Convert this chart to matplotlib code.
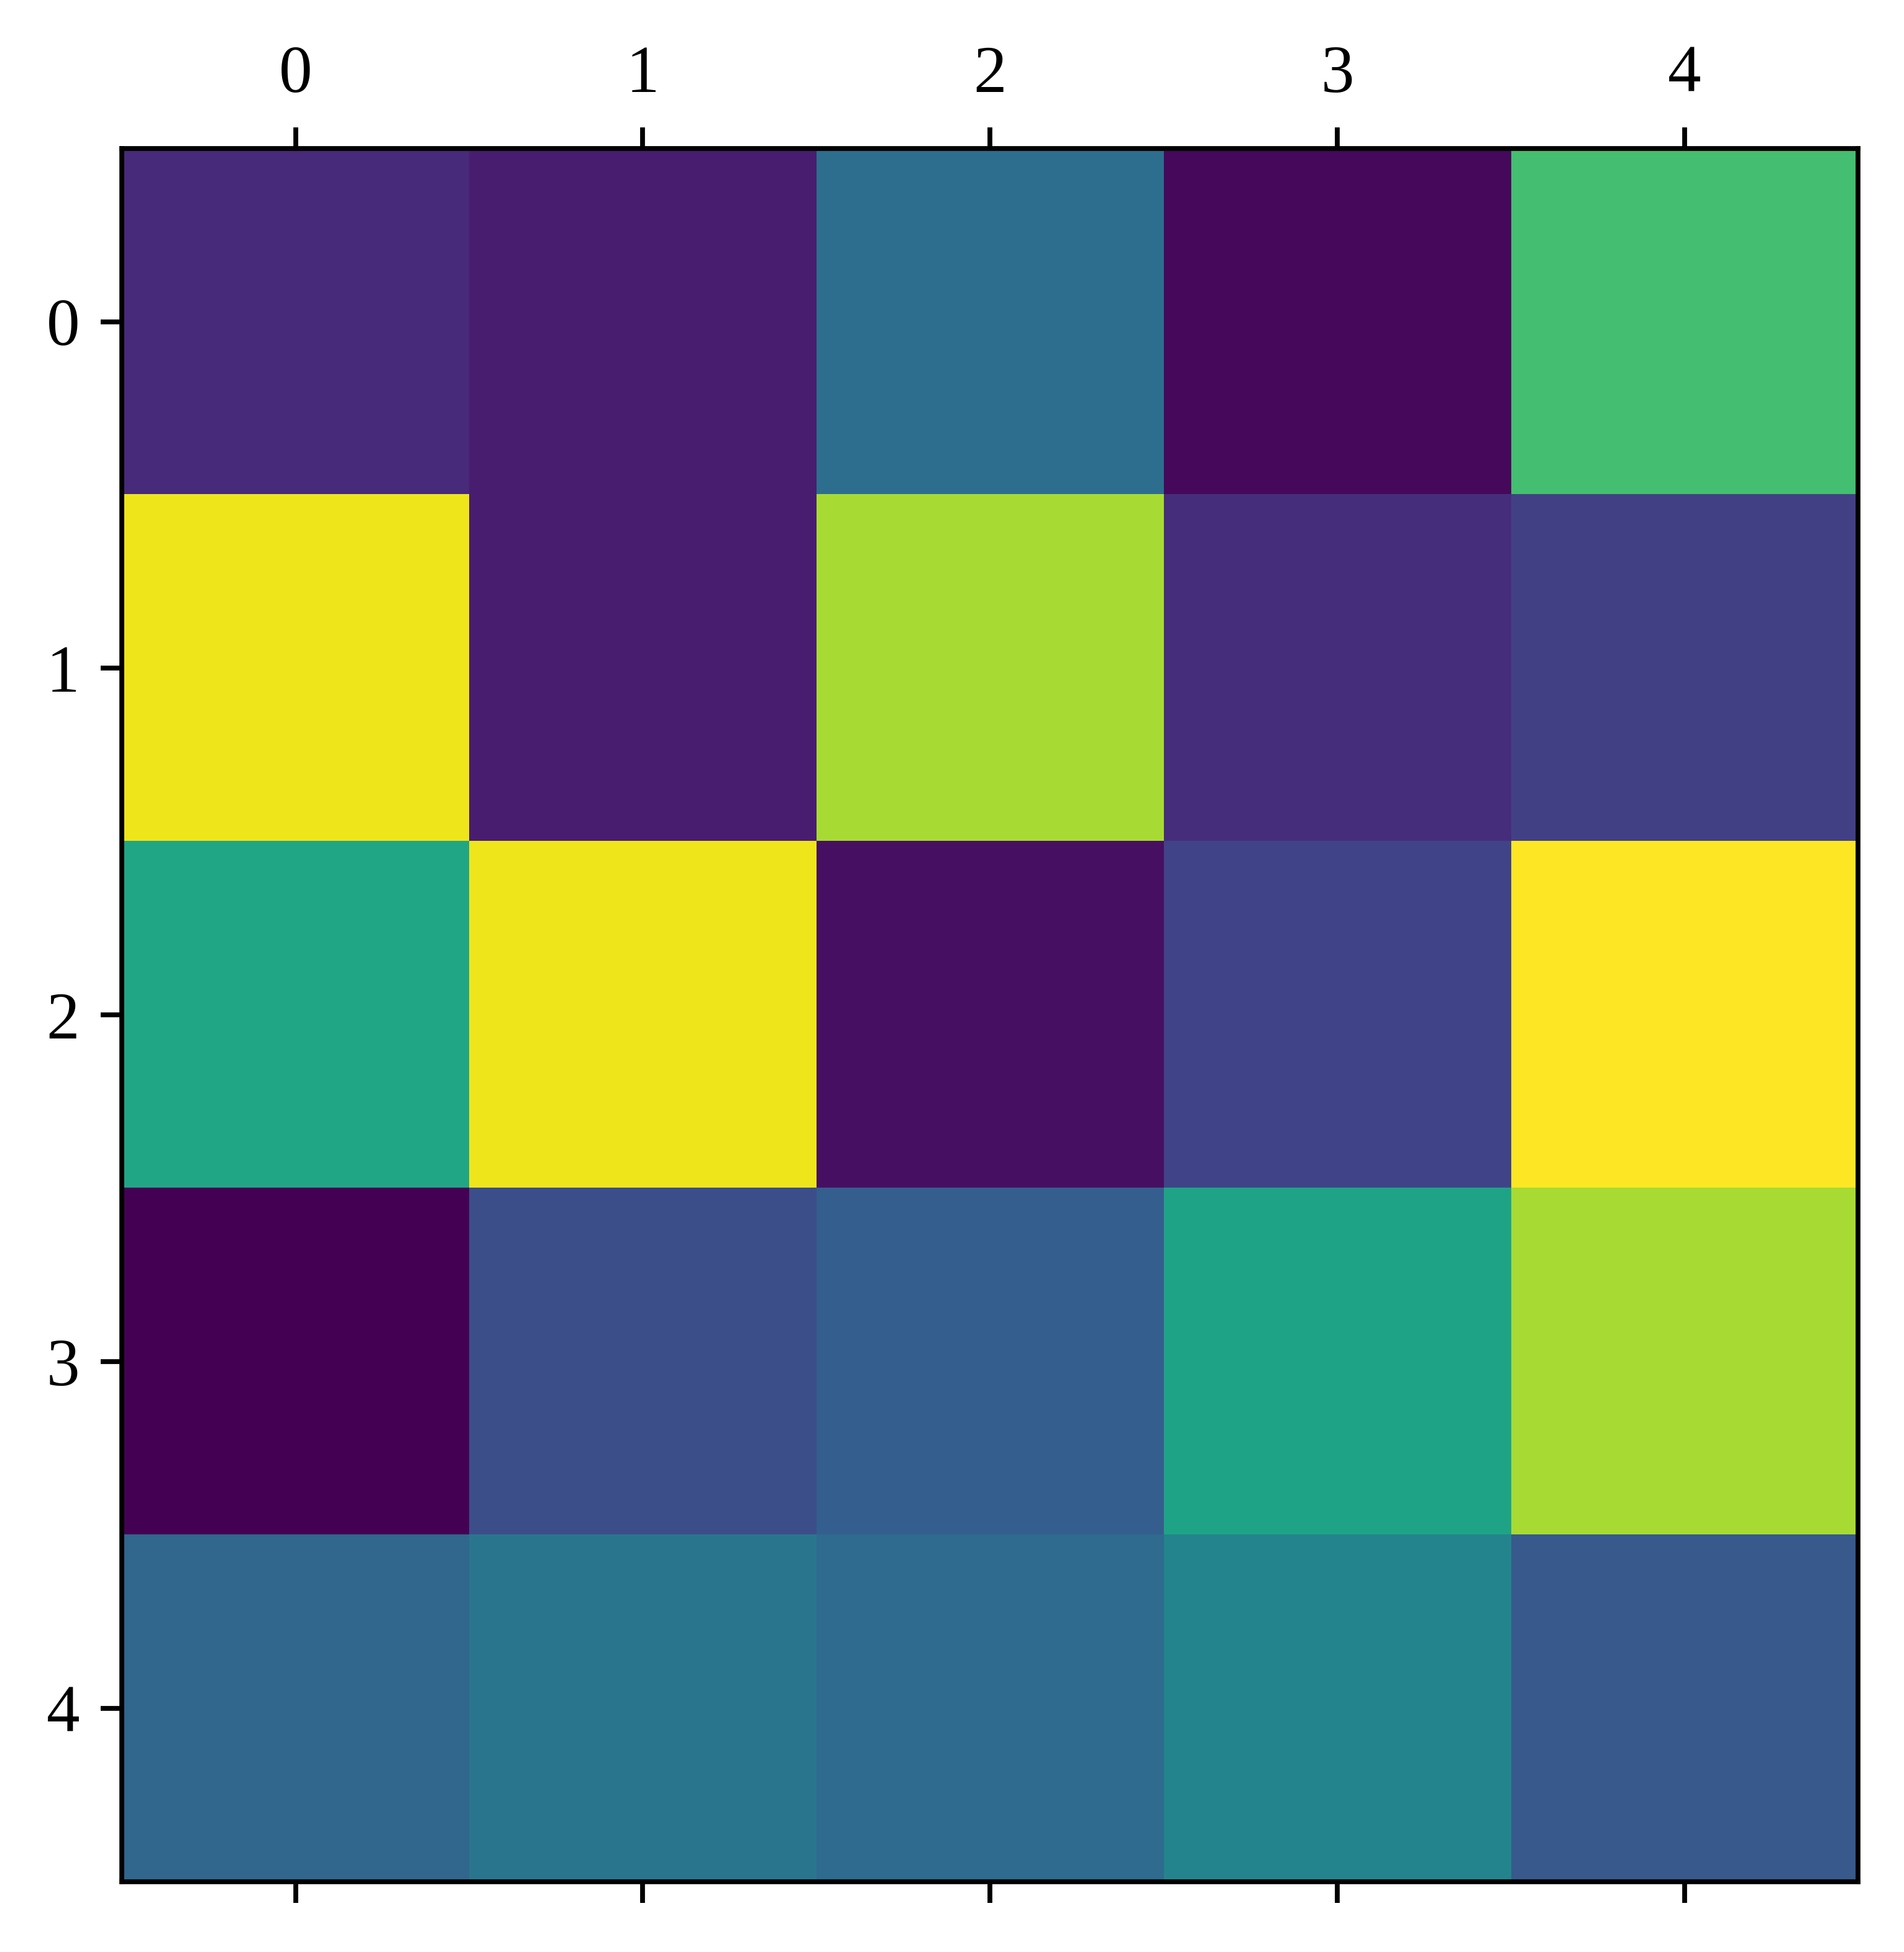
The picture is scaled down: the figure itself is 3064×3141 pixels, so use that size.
import numpy as np
import matplotlib
matplotlib.use("Agg")
import matplotlib.pyplot as plt

plt.rcParams['font.family'] = ['Liberation Serif', 'DejaVu Serif']

# values (0 = darkest, 1 = brightest)
row0 = [0.12, 0.08, 0.36, 0.02, 0.70]
row1 = [0.975, 0.08, 0.87, 0.13, 0.19]
row2 = [0.59, 0.975, 0.04, 0.20, 1.00]
row3 = [0.00, 0.24, 0.30, 0.58, 0.87]
row4 = [0.33, 0.39, 0.35, 0.45, 0.28]
labels = [0, 1, 2, 3, 4]

data = np.array([row0, row1, row2, row3, row4])

fig = plt.figure(figsize=(3064 / 700, 3141 / 700), dpi=700)
ax = fig.add_axes([0.064, 0.036, 0.912, 0.888])
ax.matshow(data, cmap='viridis', aspect='auto')
ax.set_xticks(range(len(labels)))
ax.set_yticks(range(len(labels)))
ax.set_xticklabels(labels)
ax.set_yticklabels(labels)
ax.tick_params(labelsize=11)

fig.savefig('out.png', dpi=700)
